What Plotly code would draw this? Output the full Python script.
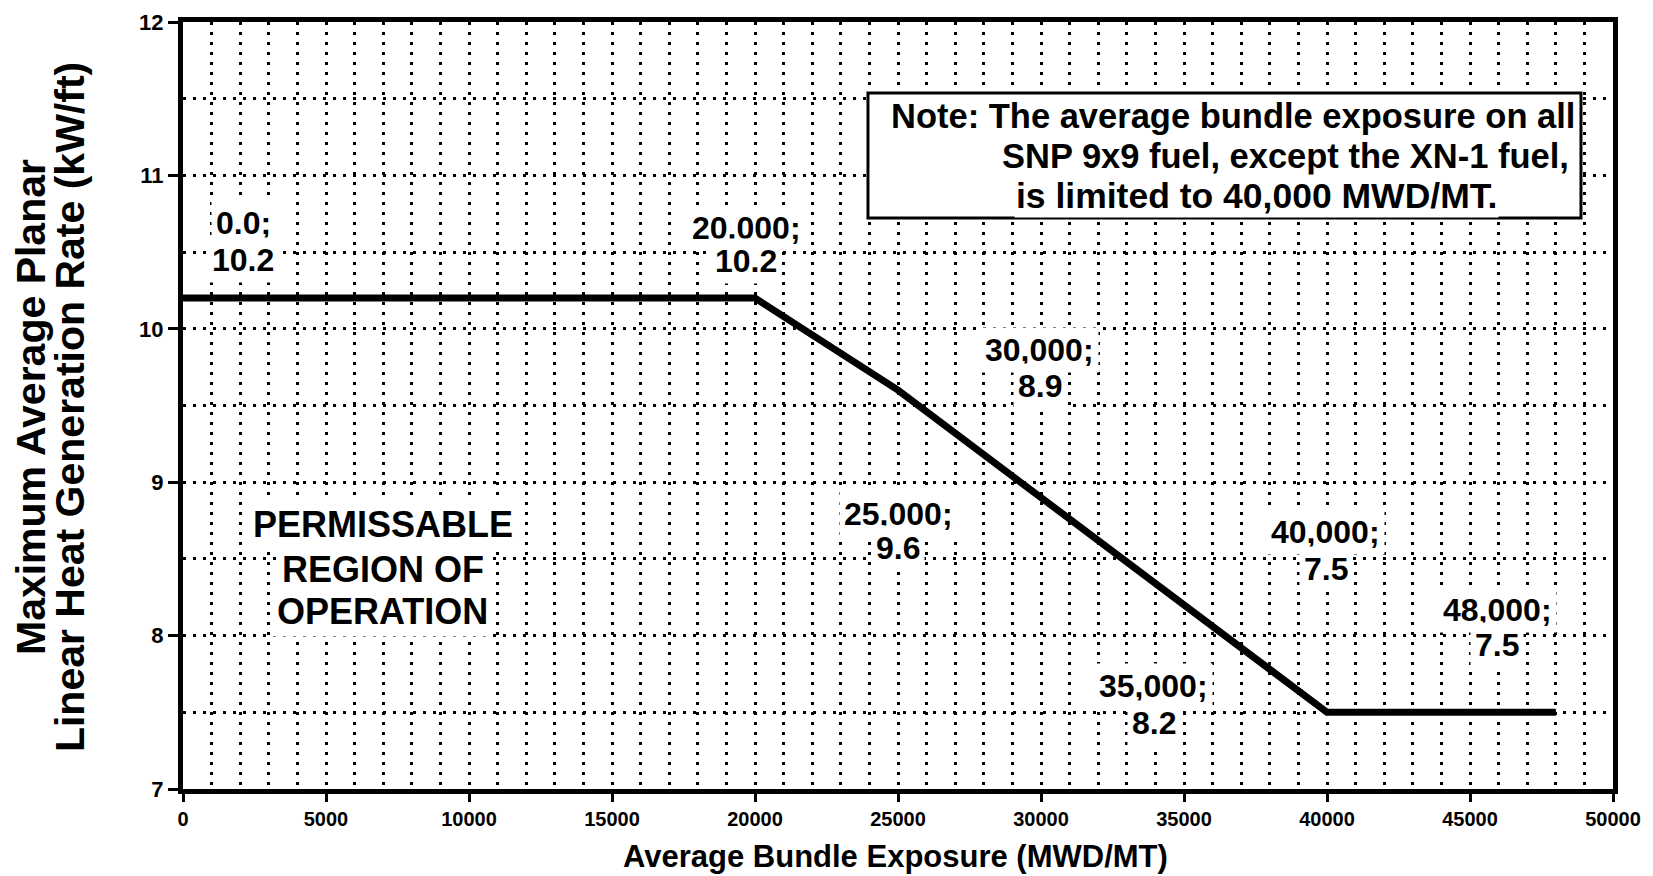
import plotly.graph_objects as go

# ---- data ----
exposure = [0, 20000, 25000, 30000, 35000, 40000, 48000]          # MWD/MT
limit = [10.2, 10.2, 9.6, 8.9, 8.2, 7.5, 7.5]                      # kW/ft
x_ticks = [0, 5000, 10000, 15000, 20000, 25000, 30000, 35000, 40000, 45000, 50000]
y_ticks = [7, 8, 9, 10, 11, 12]
note_lines = [
    "Note: The average bundle exposure on all",
    "SNP 9x9 fuel, except the XN-1 fuel,",
    "is limited to 40,000 MWD/MT.",
]
region_lines = ["PERMISSABLE", "REGION OF", "OPERATION"]
x_title = "Average Bundle Exposure (MWD/MT)"
y_title_lines = ["Maximum Average Planar", "Linear Heat Generation Rate (kW/ft)"]

# ---- label placement (data coords: x centre, y of first line, y of second line) ----
label_place = [
    (2100, 10.69, 10.45),
    (19700, 10.66, 10.44),
    (25000, 8.79, 8.57),
    (29950, 9.86, 9.63),
    (33950, 7.67, 7.43),
    (39950, 8.675, 8.435),
    (45950, 8.17, 7.94),
]

FONT = "Liberation Sans, Arial, Helvetica, sans-serif"
BLACK = "#000000"

fig = go.Figure()
fig.add_trace(go.Scatter(
    x=exposure, y=limit, mode="lines",
    line=dict(color=BLACK, width=7),
    hoverinfo="skip", showlegend=False,
))

annotations = []

def txt(x, y, text, size, xanchor="center", xref="x", yref="y", angle=0, bg="white", pad=4):
    annotations.append(dict(
        x=x, y=y, xref=xref, yref=yref, text=text, showarrow=False,
        xanchor=xanchor, yanchor="middle", textangle=angle,
        font=dict(family=FONT, size=size, color=BLACK, weight="bold"),
        bgcolor=bg, borderpad=pad,
    ))

for (xv, yv), (lx, ly1, ly2) in zip(zip(exposure, limit), label_place):
    xs = "0.0" if xv == 0 else f"{xv:,}"
    txt(lx, ly1, xs + ";", 32)
    txt(lx, ly2, f"{yv:.1f}", 32)

for text, yy in zip(region_lines, [8.727, 8.434, 8.16]):
    txt(6990, yy, text, 36)

# note box
txt(24685, 11.387, note_lines[0], 34.5, xanchor="left", pad=1)
txt(48530, 11.126, note_lines[1], 34.5, xanchor="right", pad=1)
txt(37520, 10.866, note_lines[2], 35.5, pad=1)

# axis titles
txt(0.498, -0.0874, x_title, 31, xref="paper", yref="paper", bg="rgba(0,0,0,0)", pad=0)
txt(-0.1063, 0.498, y_title_lines[0], 41, xref="paper", yref="paper", angle=-90, bg="rgba(0,0,0,0)", pad=0)
txt(-0.079, 0.498, y_title_lines[1], 41, xref="paper", yref="paper", angle=-90, bg="rgba(0,0,0,0)", pad=0)

grid_style = dict(gridcolor=BLACK, gridwidth=3, griddash="3px,7px")

fig.update_layout(
    width=1653, height=876,
    margin=dict(l=175, r=48, t=14, b=95, autoexpand=False),
    paper_bgcolor="white", plot_bgcolor="white",
    annotations=annotations,
    shapes=[dict(
        type="rect", xref="x", yref="y", x0=23950, x1=48880, y0=10.722, y1=11.537,
        line=dict(color=BLACK, width=3), fillcolor="white", layer="above",
    )],
    xaxis=dict(
        range=[0, 50000], tickvals=x_ticks, ticktext=[str(v) for v in x_ticks],
        showgrid=True, **grid_style,
        minor=dict(dtick=1000, showgrid=True, **grid_style),
        showline=True, linecolor=BLACK, linewidth=5, mirror=True,
        ticks="outside", ticklen=8, tickwidth=3, tickcolor=BLACK,
        tickfont=dict(family=FONT, size=20, color=BLACK, weight="bold"),
        zeroline=False, fixedrange=True, automargin=False,
    ),
    yaxis=dict(
        range=[7, 12], tickvals=y_ticks, ticktext=[str(v) for v in y_ticks],
        showgrid=True, **grid_style,
        minor=dict(dtick=0.5, showgrid=True, **grid_style),
        showline=True, linecolor=BLACK, linewidth=5, mirror=True,
        ticks="outside", ticklen=10, tickwidth=3, tickcolor=BLACK,
        tickfont=dict(family=FONT, size=22, color=BLACK, weight="bold"),
        zeroline=False, fixedrange=True, automargin=False,
    ),
)

fig.write_html("out.html")
